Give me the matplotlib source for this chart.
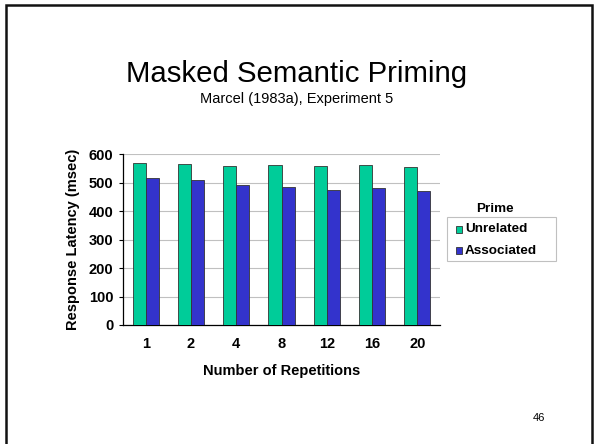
import numpy as np
import matplotlib.pyplot as plt
from matplotlib.patches import Rectangle

plt.rcParams['font.family'] = ['Liberation Sans', 'DejaVu Sans']

# Marcel (1983a), Experiment 5 - response latencies by number of repetitions
repetitions = ['1', '2', '4', '8', '12', '16', '20']
unrelated = [568, 565, 560, 562, 559, 563, 556]
associated = [518, 509, 492, 484, 476, 480, 470]
series_names = ['Unrelated', 'Associated']

green = '#00CC99'
blue = '#3333CC'
W, H = 594, 444


def fx(px):
    return px / W


def fy(py):
    return 1 - py / H


fig = plt.figure(figsize=(W / 100, H / 100), dpi=100)
ax = fig.add_axes([fx(123), fy(325), fx(440) - fx(123), fy(154.3) - fy(325)])

x = np.arange(len(repetitions))
w = 0.29
ax.bar(x - w / 2, unrelated, w, color=green, edgecolor='#333333', linewidth=0.6, zorder=3)
ax.bar(x + w / 2, associated, w, color=blue, edgecolor='#333333', linewidth=0.6, zorder=3)

ax.set_xlim(-0.5, len(repetitions) - 0.5)
ax.set_ylim(0, 600)
ax.set_yticks(range(0, 601, 100))
ax.set_xticks(x)
ax.set_xticklabels(repetitions)
ax.yaxis.grid(True, color='#c0c0c0', linewidth=0.8, zorder=0)
ax.set_axisbelow(True)

for side in ['top', 'right']:
    ax.spines[side].set_visible(False)
ax.spines['left'].set_linewidth(0.9)
ax.spines['bottom'].set_linewidth(0.9)
ax.tick_params(axis='x', length=0, pad=9)
ax.tick_params(axis='y', length=3, width=0.8, pad=4)
for lbl in ax.get_xticklabels() + ax.get_yticklabels():
    lbl.set_fontweight('bold')
    lbl.set_fontsize(10.5)

ax.set_xlabel('Number of Repetitions', fontsize=10.5, fontweight='bold', labelpad=9)
ax.set_ylabel('Response Latency (msec)', fontsize=10.5, fontweight='bold', labelpad=6)

# titles
fig.text(0.5, fy(82), 'Masked Semantic Priming', ha='center', va='baseline', fontsize=21.2)
fig.text(0.5, fy(103), 'Marcel (1983a), Experiment 5', ha='center', va='baseline', fontsize=10.5)

# legend: title above a framed box of swatches
fig.text(fx(495), fy(209), 'Prime', ha='center', va='center', fontsize=9.7, fontweight='bold')
fig.patches.append(Rectangle((fx(446.7), fy(261)), fx(556) - fx(446.7), fy(217) - fy(261),
                             transform=fig.transFigure, facecolor='white',
                             edgecolor='#c0c0c0', linewidth=0.8))
for name, color, row_y in zip(series_names, [green, blue], [229.3, 250.7]):
    fig.patches.append(Rectangle((fx(456), fy(row_y + 3.2)), fx(6.5), 6.5 / H,
                                 transform=fig.transFigure, facecolor=color,
                                 edgecolor='#333333', linewidth=0.6))
    fig.text(fx(465), fy(row_y), name, ha='left', va='center',
             fontsize=9.7, fontweight='bold')

# slide number
fig.text(fx(539), fy(418), '46', ha='center', va='center', fontsize=8)

# slide frame
fig.patches.append(Rectangle((fx(5.5), -0.05), fx(591.5) - fx(5.5), 1.05 - 5.3 / H,
                             transform=fig.transFigure, fill=False,
                             edgecolor='#111111', linewidth=1.8))

fig.savefig('out.png', dpi=100)
